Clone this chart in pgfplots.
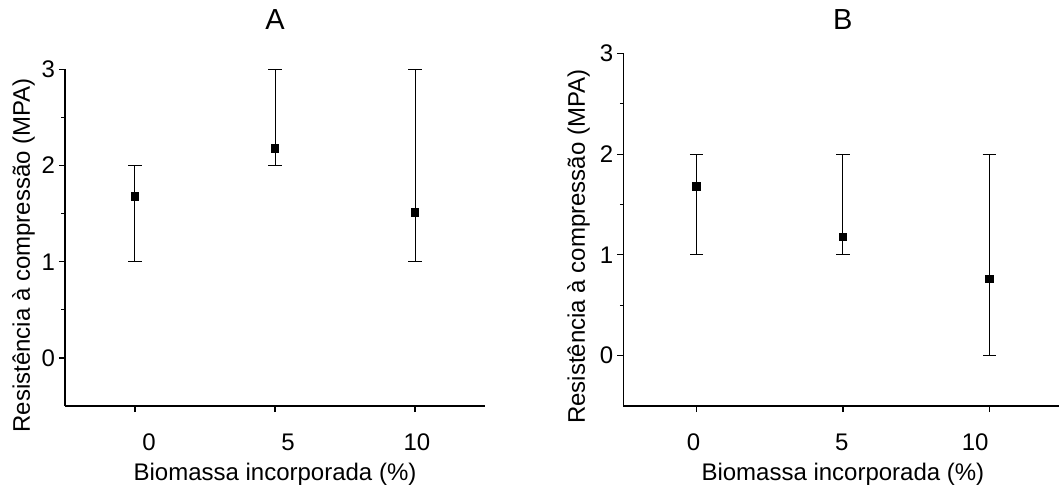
\documentclass[border=0pt]{standalone}
\usepackage{fontspec}
\setmainfont{Liberation Sans}
\usepackage{pgfplots}
\pgfplotsset{compat=1.18}

\pgfplotsset{
  panel/.style={
    scale only axis,
    axis lines=left,
    axis line style={-, line width=0.6pt},
    xmin=-2.5, xmax=12.5, ymin=-0.5, ymax=3,
    xtick={0,5,10}, ytick={0,1,2,3},
    minor y tick num=1,
    tick align=outside,
    major tick length=3pt, minor tick length=1.8pt,
    tick style={line width=0.6pt, black},
    /pgf/number format/assume math mode=true,
    tick label style={font=\fontsize{12}{14}\selectfont},
    label style={font=\fontsize{12}{14}\selectfont},
    xticklabel style={yshift=-7.5pt},
    yticklabel style={xshift=1.5pt},
    xlabel={Biomassa incorporada (\%)},
    ylabel={Resistência à compressão (MPA)},
    xlabel style={at={(axis description cs:0.5,0)}, anchor=base, yshift=-37pt},
    title style={font=\fontsize{14.5}{17}\selectfont, at={(axis description cs:0.5,1)}, anchor=base},
    clip=false,
  },
  pts/.style={only marks, mark=square*, mark size=1.9pt, black,
    error bars/.cd, y dir=both, y explicit,
    error bar style={line width=0.5pt, black},
    error mark options={rotate=90, line width=0.6pt, mark size=3.3pt, black}},
}

\begin{document}
\begin{tikzpicture}
  \useasboundingbox (0,0) rectangle (529.5pt,243.5pt);

  % panel A
  \begin{axis}[panel,
    at={(32.5pt,40.5pt)}, width=210pt, height=168.3pt,
    xticklabels={\hspace*{14pt}0, \hspace*{13pt}5, \hspace*{2pt}10},
    title={A}, title style={yshift=13.8pt},
    ylabel style={at={(axis description cs:-0.099,0.448)}, anchor=center},
  ]
    \addplot[pts] coordinates {
      (0,1.68) += (0,0.32) -= (0,0.68)
      (5,2.18) += (0,0.82) -= (0,0.18)
      (10,1.51) += (0,1.49) -= (0,0.51)
    };
  \end{axis}

  % panel B
  \begin{axis}[panel,
    at={(311.7pt,40.5pt)}, width=219.5pt, height=176.3pt,
    xticklabels={0\hspace*{3pt}, 5\hspace*{1pt}, 10\hspace*{14pt}},
    title={B}, title style={yshift=5.8pt},
    ylabel style={at={(axis description cs:-0.1025,0.452)}, anchor=center},
  ]
    \addplot[pts] coordinates {
      (0,1.68) += (0,0.32) -= (0,0.68)
      (5,1.18) += (0,0.82) -= (0,0.18)
      (10,0.76) += (0,1.24) -= (0,0.76)
    };
  \end{axis}
\end{tikzpicture}
\end{document}
